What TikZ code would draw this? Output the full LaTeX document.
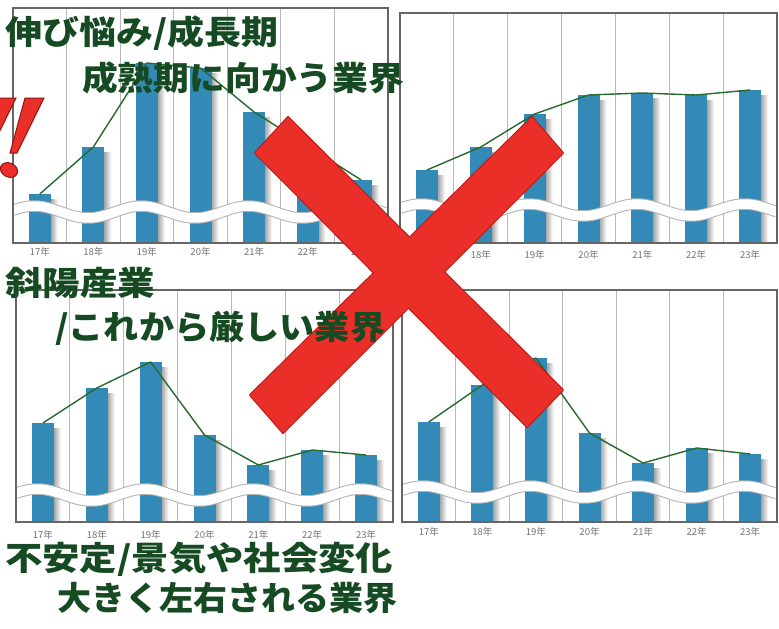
\documentclass[tikz,border=0pt]{standalone}
\usepackage{fontspec}
\usepackage{graphicx}
\newfontfamily\jpfont{Noto Sans CJK JP}
\usetikzlibrary{calc, positioning}

\definecolor{barblue}{RGB}{52,138,182}
\definecolor{titlegreen}{RGB}{22,74,34}
\definecolor{trendgreen}{RGB}{40,105,45}
\definecolor{xred}{RGB}{234,46,40}
\definecolor{xedge}{RGB}{185,22,22}

% #1 name, #2 left, #3 right, #4 top, #5 base, #6 wave, #7 label y, #8 bar tops
\newcommand{\drawchart}[8]{%
  \pgfmathsetmacro{\colw}{(#3-#2)/7}
  \foreach \i in {1,...,6}
    \draw[grid] ({#2+\i*\colw},#4) -- ({#2+\i*\colw},#5);
  \foreach \v [count=\i] in {#8} {
    \pgfmathsetmacro{\cx}{#2+(\i-0.5)*\colw}
    \shade[left color=black!40, right color=white] ({\cx+10},{\v+5}) rectangle ({\cx+18},#5);
    \fill[bar] ({\cx-11},\v) rectangle ({\cx+11},#5);
    \coordinate (#1-\i) at (\cx,\v);
    \node[yearlabel] (#1-lab\i) at (\cx,#7) {\the\numexpr16+\i\relax 年};
  }
  \begin{scope}
    \clip (#2,#4) rectangle (#3,#5);
    \draw[wavebg] plot[domain=#2:#3, samples=90] (\x,{#6-6*cos(180*((\x-#2)/\colw-0.4))});
    \draw[wavefg] plot[domain=#2:#3, samples=90] (\x,{#6-6*cos(180*((\x-#2)/\colw-0.4))});
  \end{scope}
  \draw[trend] (#1-1) \foreach \j in {2,...,7}{ -- (#1-\j)};
  \draw[frame] (#2,#5) -- (#2,#4) -- (#3,#4) -- (#3,#5) -- cycle;
}

\newcommand{\fitw}[2]{\resizebox{#1pt}{\height}{#2}}

\begin{document}
\begin{tikzpicture}[
    x=1pt, y=-1pt,
    bar/.style = {fill=barblue},
    grid/.style = {draw=black!28, line width=0.8},
    frame/.style = {draw=black!60, line width=1.4},
    wavebg/.style = {draw=black!30, line width=11.5},
    wavefg/.style = {draw=white, line width=9.5},
    trend/.style = {draw=trendgreen, line width=1.4, line join=round},
    yearlabel/.style = {inner sep=0, text=black!55, font=\jpfont\fontsize{9.5}{10}\selectfont},
    title/.style = {anchor=base west, inner sep=0, text=titlegreen, font=\jpfont\bfseries\fontsize{33}{36}\selectfont},
    cross/.style = {fill=xred},
    crossedge/.style = {draw=xedge, line width=2, line join=round},
    bang/.style = {fill=xred, draw=xedge!80!black, line width=1}
  ]

  \useasboundingbox[fill=white] (0,0) rectangle (779,629);

  \drawchart{tl}{13}{388}{8}{243}{212}{252}{194,147,63,68,112,146,180}
  \drawchart{tr}{400}{777}{13}{243}{210}{255}{170,147,114,95,93,95,90}
  \drawchart{bl}{16}{393}{290}{522}{495}{535}{423,388,362,435,465,450,455}
  \drawchart{br}{402}{777}{290}{522}{492}{532}{422,385,358,433,463,448,454}

  % big cross
  \coordinate (c1a) at (288,117); \coordinate (c1b) at (563,390);
  \coordinate (c1c) at (527,427); \coordinate (c1d) at (255,153);
  \coordinate (c2a) at (532,117); \coordinate (c2b) at (563,153);
  \coordinate (c2c) at (283,433); \coordinate (c2d) at (250,395);
  \draw[crossedge] (c1a) -- (c1b) -- (c1c) -- (c1d) -- cycle;
  \draw[crossedge] (c2a) -- (c2b) -- (c2c) -- (c2d) -- cycle;
  \fill[cross] (c1a) -- (c1b) -- (c1c) -- (c1d) -- cycle;
  \fill[cross] (c2a) -- (c2b) -- (c2c) -- (c2d) -- cycle;

  \node[title] (growth) at (5,45) {\fitw{273}{伸び悩み/成長期}};
  \node[title] (mature) at (82,90) {\fitw{322}{成熟期に向かう業界}};
  \node[title] (decline) at (5,295) {\fitw{150}{斜陽産業}};
  \node[title] (severe) at (55,339) {\fitw{330}{/これから厳しい業界}};
  \node[title] (unstable) at (5,570) {\fitw{388}{不安定/景気や社会変化}};
  \node[title] (swayed) at (57,610) {\fitw{340}{大きく左右される業界}};

  % exclamation marks at the left edge
  \begin{scope}
    \clip (0,0) rectangle (779,629);
    \foreach \s in {0,-28} {
      \filldraw[bang] ({25+\s},98) -- ({44+\s},98) -- ({17+\s},153) -- ({10+\s},153) -- cycle;
      \filldraw[bang, rotate around={-25:({9+\s},170)}] ({9+\s},170) ellipse [x radius=9, y radius=7];
    }
  \end{scope}
\end{tikzpicture}
\end{document}
